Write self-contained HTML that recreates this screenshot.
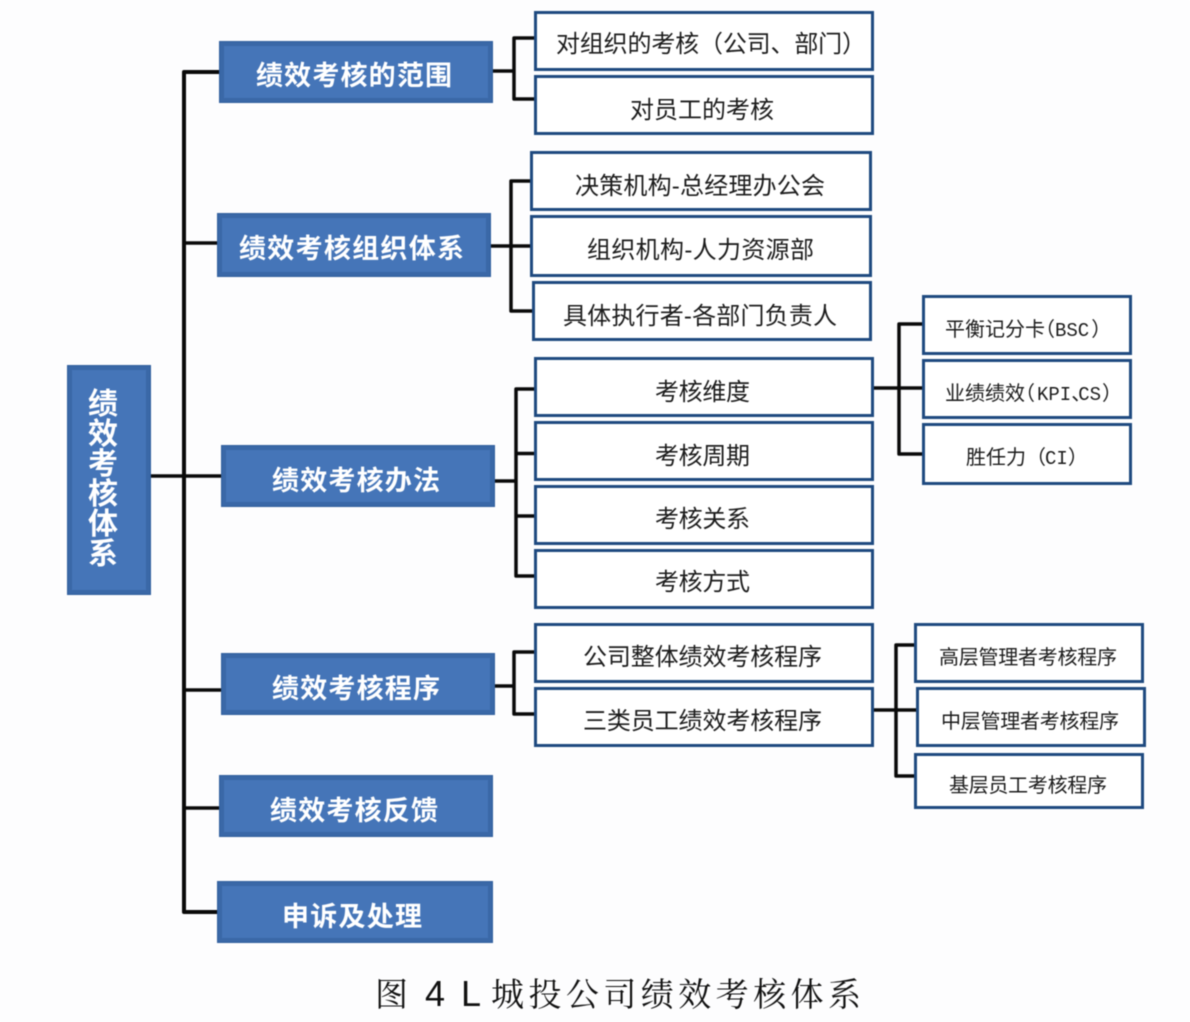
<!DOCTYPE html>
<html lang="zh">
<head>
<meta charset="utf-8">
<title>绩效考核体系</title>
<style>
html,body{margin:0;padding:0;background:#fdfdfe;}
body{width:1190px;height:1022px;overflow:hidden;}
svg{display:block;filter:blur(0.55px);}
text{font-family:"Liberation Sans","Noto Sans CJK SC",sans-serif;}
.b{fill:#4575b8;stroke:#33619f;stroke-width:1;}
.bi{fill:none;stroke:#36639f;stroke-width:4;opacity:.7;}
.l{fill:#fff;stroke:#1f4a80;stroke-width:3;}
.c{stroke:#0a0a0a;fill:none;stroke-width:3.5;stroke-linejoin:round;}
.t1{fill:#fff;font-size:27px;font-weight:700;}
.t0{fill:#fff;font-size:30px;font-weight:700;}
.t2{fill:#1c1c1c;font-size:24px;}
.t3{fill:#1c1c1c;font-size:20px;}
.m{font-family:"Liberation Mono",monospace;font-size:19px;}
.cap{fill:#111;font-family:"Noto Serif CJK SC","Liberation Serif",serif;font-size:33px;}
.lat{fill:#111;font-size:36px;}
</style>
</head>
<body>
<svg width="1190" height="1022" viewBox="0 0 1190 1022" xmlns="http://www.w3.org/2000/svg">
<rect width="1190" height="1022" fill="#fdfdfe"/>

<!-- connectors -->
<path class="c" style="stroke-width:4" d="M219 72H184V912H217"/>
<path class="c" d="M151 476H221M184 243H217M184 690H221M184 808H219"/>
<path class="c" d="M493 71H514M535 38H514V99H535"/>
<path class="c" d="M491 246H531M531 181H511V311H533"/>
<path class="c" d="M495 481H516M535 389H516V576H535M516 453.500H535M516 516H535"/>
<path class="c" d="M493 686H514M535 652H514V714H535"/>
<path class="c" d="M873 388H923M923 324H899V454H923"/>
<path class="c" d="M873 710H917M915 645H896V776H917"/>

<!-- root -->
<rect class="b" x="67.500" y="365.500" width="83" height="229"/>
<rect class="bi" x="70" y="368" width="78" height="224"/>
<g text-anchor="middle">
<text class="t0" x="103" y="414">绩</text>
<text class="t0" x="103" y="444">效</text>
<text class="t0" x="103" y="474">考</text>
<text class="t0" x="103" y="504">核</text>
<text class="t0" x="103" y="534">体</text>
<text class="t0" x="103" y="564">系</text>
</g>

<!-- level 1 -->
<rect class="b" x="219.500" y="41.500" width="273" height="61"/><rect class="bi" x="222" y="44" width="268" height="56"/>
<text class="t1" x="256" y="85" textLength="196" lengthAdjust="spacing">绩效考核的范围</text>
<rect class="b" x="217.500" y="213.500" width="273" height="63"/><rect class="bi" x="220" y="216" width="268" height="58"/>
<text class="t1" x="239" y="258" textLength="225" lengthAdjust="spacing">绩效考核组织体系</text>
<rect class="b" x="221.500" y="445.500" width="273" height="61"/><rect class="bi" x="224" y="448" width="268" height="56"/>
<text class="t1" x="272" y="490" textLength="168" lengthAdjust="spacing">绩效考核办法</text>
<rect class="b" x="221.500" y="653.500" width="273" height="61"/><rect class="bi" x="224" y="656" width="268" height="56"/>
<text class="t1" x="272" y="698" textLength="168" lengthAdjust="spacing">绩效考核程序</text>
<rect class="b" x="219.500" y="775.500" width="273" height="61"/><rect class="bi" x="222" y="778" width="268" height="56"/>
<text class="t1" x="270" y="820" textLength="168" lengthAdjust="spacing">绩效考核反馈</text>
<rect class="b" x="217.500" y="881.500" width="275" height="61"/><rect class="bi" x="220" y="884" width="270" height="56"/>
<text class="t1" x="282" y="926" textLength="140" lengthAdjust="spacing">申诉及处理</text>

<!-- level 2 -->
<rect class="l" x="535.500" y="12.500" width="337" height="57"/>
<text class="t2" x="556" y="52" textLength="310" lengthAdjust="spacing">对组织的考核（公司、部门）</text>
<rect class="l" x="535.500" y="76.500" width="337" height="57"/>
<text class="t2" x="630" y="118" textLength="144" lengthAdjust="spacing">对员工的考核</text>

<rect class="l" x="531.500" y="152.500" width="339" height="57"/>
<text class="t2" x="575" y="194" textLength="250" lengthAdjust="spacing">决策机构-总经理办公会</text>
<rect class="l" x="531.500" y="216.500" width="339" height="59"/>
<text class="t2" x="587" y="258" textLength="227" lengthAdjust="spacing">组织机构-人力资源部</text>
<rect class="l" x="533.500" y="282.500" width="337" height="57"/>
<text class="t2" x="563" y="324" textLength="274" lengthAdjust="spacing">具体执行者-各部门负责人</text>

<rect class="l" x="535.500" y="358.500" width="337" height="57"/>
<text class="t2" x="655" y="400" textLength="95" lengthAdjust="spacing">考核维度</text>
<rect class="l" x="535.500" y="422.500" width="337" height="57"/>
<text class="t2" x="655" y="464" textLength="95" lengthAdjust="spacing">考核周期</text>
<rect class="l" x="535.500" y="486.500" width="337" height="57"/>
<text class="t2" x="655" y="527" textLength="95" lengthAdjust="spacing">考核关系</text>
<rect class="l" x="535.500" y="550.500" width="337" height="57"/>
<text class="t2" x="655" y="590" textLength="95" lengthAdjust="spacing">考核方式</text>

<rect class="l" x="535.500" y="624.500" width="337" height="57"/>
<text class="t2" x="583" y="665" textLength="239" lengthAdjust="spacing">公司整体绩效考核程序</text>
<rect class="l" x="535.500" y="688.500" width="337" height="57"/>
<text class="t2" x="583" y="729" textLength="239" lengthAdjust="spacing">三类员工绩效考核程序</text>

<!-- level 3 -->
<rect class="l" x="923.500" y="296.500" width="207" height="57"/>
<text class="t3" x="945" y="336">平衡记分卡<tspan dx="-10">（</tspan><tspan class="m">BSC</tspan><tspan dx="2">）</tspan></text>
<rect class="l" x="923.500" y="360.500" width="207" height="57"/>
<text class="t3" x="945" y="400">业绩绩效<tspan dx="-10">（</tspan><tspan class="m" dx="2">KPI</tspan>、<tspan class="m" dx="-13">CS</tspan><tspan dx="1">）</tspan></text>
<rect class="l" x="923.500" y="424.500" width="207" height="59"/>
<text class="t3" x="966" y="464">胜任力<tspan>（</tspan><tspan class="m" dx="-1">CI</tspan><tspan>）</tspan></text>

<rect class="l" x="915.500" y="624.500" width="227" height="57"/>
<text class="t3" x="939" y="664" textLength="178" lengthAdjust="spacing">高层管理者考核程序</text>
<rect class="l" x="917.500" y="688.500" width="227" height="57"/>
<text class="t3" x="941" y="728" textLength="178" lengthAdjust="spacing">中层管理者考核程序</text>
<rect class="l" x="915.500" y="754.500" width="227" height="53"/>
<text class="t3" x="949" y="792" textLength="158" lengthAdjust="spacing">基层员工考核程序</text>

<!-- caption -->
<text class="cap" x="375" y="1006">图</text>
<text class="lat" x="425" y="1006" textLength="20">4</text>
<text class="lat" x="461" y="1006">L</text>
<text class="cap" x="491" y="1006" textLength="370" lengthAdjust="spacing">城投公司绩效考核体系</text>
</svg>
</body>
</html>
